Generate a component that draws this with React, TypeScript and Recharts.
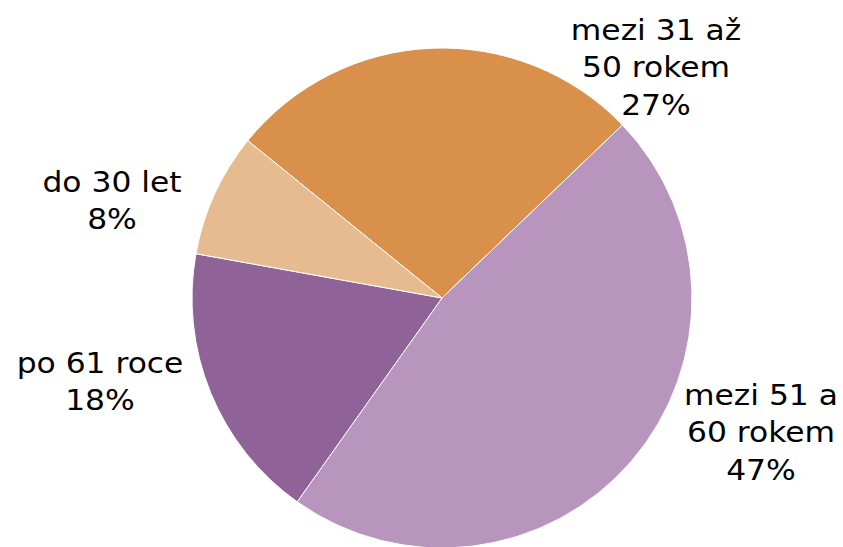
import { PieChart, Pie, Cell } from 'recharts';

const categories = ['mezi 31 až 50 rokem', 'mezi 51 a 60 rokem', 'po 61 roce', 'do 30 let'];
const shares = [27, 47, 18, 8];
const colors = ['#D9904A', '#B795BD', '#8F6398', '#E6BB8F'];

// label anchor (centre x, first baseline) relative to the pie centre
const labelOffsets = [
  { dx: 214, dy: -258 },
  { dx: 319, dy: 107 },
  { dx: -342, dy: 75 },
  { dx: -330, dy: -106 },
];

const data = categories.map((name, i) => ({ name, value: shares[i] }));

function wrap(text: string, max: number) {
  const lines: string[] = [];
  let cur = '';
  for (const w of text.split(' ')) {
    const next = cur ? cur + ' ' + w : w;
    if (next.length > max && cur) {
      lines.push(cur);
      cur = w;
    } else {
      cur = next;
    }
  }
  if (cur) lines.push(cur);
  return lines;
}

function renderLabel(props: any) {
  const { cx, cy, index, name, percent } = props;
  const off = labelOffsets[index];
  const x = cx + off.dx;
  const y = cy + off.dy;
  const lines = [...wrap(name, 10), `${Math.round(percent * 100)}%`];
  return (
    <text
      x={x}
      y={y}
      textAnchor="middle"
      fill="#000"
      fontFamily="'DejaVu Sans', Verdana, sans-serif"
      fontSize={29}
      transform={`translate(${x} ${y}) scale(1.08 1) translate(${-x} ${-y})`}
    >
      {lines.map((l, i) => (
        <tspan key={i} x={x} dy={i === 0 ? 0 : 37.5}>{l}</tspan>
      ))}
    </text>
  );
}

export default function App() {
  return (
    <div style={{ position: 'absolute', left: 0, top: 0, width: 843, height: 547, background: '#fff' }}>
      <PieChart width={843} height={547} margin={{ top: 0, right: 0, bottom: 0, left: 0 }}>
        <Pie
          data={data}
          dataKey="value"
          nameKey="name"
          cx={442}
          cy={298}
          outerRadius={250}
          startAngle={141}
          endAngle={-219}
          stroke="#fff"
          strokeWidth={1}
          label={renderLabel}
          labelLine={false}
          isAnimationActive={false}
        >
          {data.map((d, i) => (
            <Cell key={d.name} fill={colors[i]} />
          ))}
        </Pie>
      </PieChart>
    </div>
  );
}
